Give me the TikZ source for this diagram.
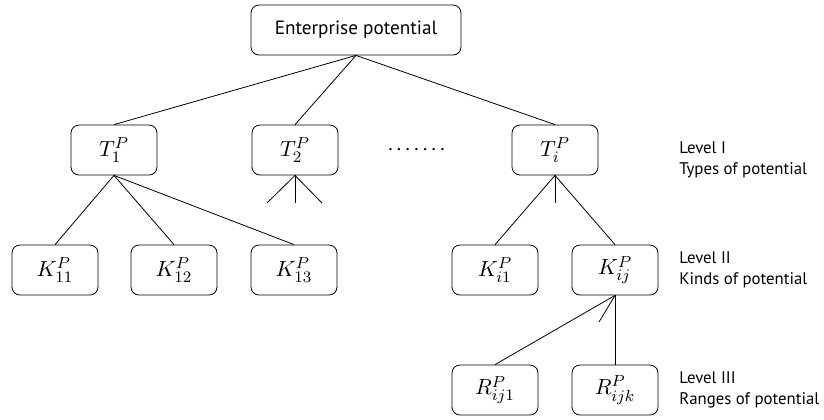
\documentclass[tikz,border=0pt]{standalone}
\usepackage{fontspec}
\setmainfont{PT Sans}
\usepackage{tikz}
\usetikzlibrary{positioning}

\tikzset{
  box/.style={draw, rounded corners=4pt, minimum width=43pt, minimum height=25pt, inner sep=2pt,
    font=\fontsize{11}{13}\selectfont},
  lvl/.style={align=left, anchor=north west, inner sep=0pt, font=\fontsize{8.4}{10.5}\selectfont}
}

\begin{document}
\begin{tikzpicture}[x=0.5pt,y=-0.5pt,thin]
        \useasboundingbox (0,0) rectangle (824,419);

        % Top node
        \node[box, minimum width=105pt, font=\fontsize{9.6}{12}\selectfont] (ent) at (356,30) {Enterprise potential};

        % Level I
        \node[box] (t1) at (114,150) {$T_1^P$};
        \node[box] (t2) at (295,150) {$T_2^P$};
        \node[box] (ti) at (555,150) {$T_i^P$};
        \node[anchor=base, inner sep=0pt] (dots) at (416.5,150)
            {.\hspace{2.2pt}.\hspace{2.2pt}.\hspace{2.2pt}.\hspace{2.2pt}.\hspace{2.2pt}.\hspace{2.2pt}.};

        % Level II
        \node[box] (k11) at (55,270) {$K_{11}^P$};
        \node[box] (k12) at (174,270) {$K_{12}^P$};
        \node[box] (k13) at (294,270) {$K_{13}^P$};
        \node[box] (ki1) at (495,270) {$K_{i1}^P$};
        \node[box] (kij) at (615,270) {$K_{ij}^P$};

        % Level III
        \node[box] (rij1) at (495,390) {$R_{ij1}^P$};
        \node[box] (rijk) at (615,390) {$R_{ijk}^P$};

        % Loose ends
        \coordinate (s2a) at (267,203);
        \coordinate (s2b) at (295,203);
        \coordinate (s2c) at (322,203);
        \coordinate (sib) at (555,203);
        \coordinate (sjb) at (599,322);

        % Connectors
        \foreach \n in {t1,t2,ti} {
            \draw (ent.south) -- (\n.north);
        }
        \foreach \n in {k11,k12,k13} {
            \draw (t1.south) -- (\n.north);
        }
        \foreach \n in {s2a,s2b,s2c} {
            \draw (t2.south) -- (\n);
        }
        \draw (ti.south) -- (ki1.north);
        \draw (ti.south) -- (sib);
        \draw (ti.south) -- (kij.north);
        \draw (kij.south) -- (rij1.north);
        \draw (kij.south) -- (sjb);
        \draw (kij.south) -- (rijk.north);

        % Level labels
        \node[lvl] (l1) at (679,141) {Level I\\Types of potential};
        \node[lvl] (l2) at (679,251) {Level II\\Kinds of potential};
        \node[lvl] (l3) at (679,371) {Level III\\Ranges of potential};
    \end{tikzpicture}
\end{document}
